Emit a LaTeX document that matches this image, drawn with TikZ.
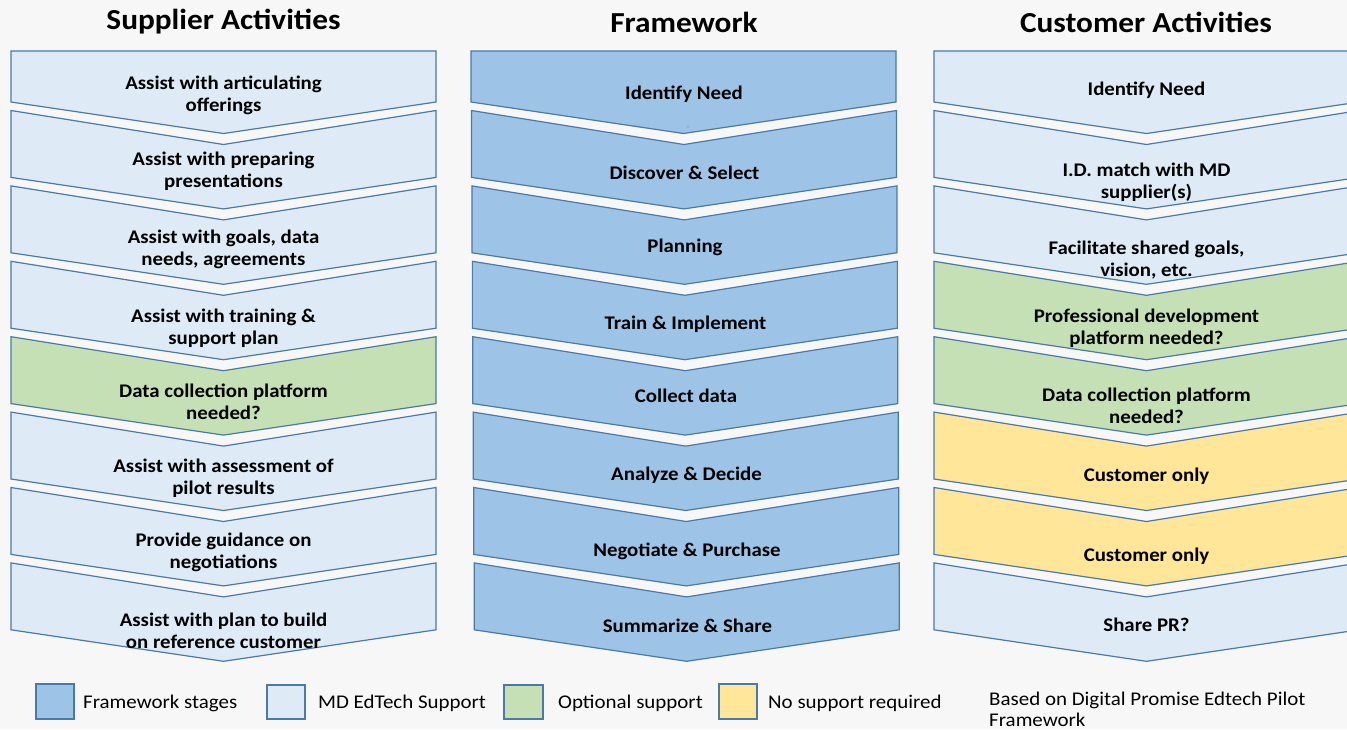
\documentclass[tikz,border=0pt]{standalone}
\usepackage{fontspec}
\setmainfont{Carlito}[FakeStretch=1.08]
\definecolor{bgc}{HTML}{F7F7F7}
\definecolor{fwblue}{HTML}{9DC3E6}
\definecolor{mdlight}{HTML}{DEEBF7}
\definecolor{optgreen}{HTML}{C5E0B4}
\definecolor{noyellow}{HTML}{FFE699}
\definecolor{edge}{HTML}{4A7AAA}
\tikzset{
  chev/.style={draw=edge,line width=1.2pt,line join=miter},
  lbl/.style={align=center,inner sep=0pt,yshift=-2pt,font=\bfseries\fontsize{19.3}{22}\selectfont},
  ttl/.style={inner sep=0pt,yshift=-2pt,font=\bfseries\fontsize{29}{32}\selectfont},
  leg/.style={anchor=west,inner sep=0pt,font=\fontsize{19.4}{21}\selectfont},
  legbox/.style={draw=edge,line width=1.2pt}
}
\newcommand\chevrow[3]{%
  \pgfmathsetmacro\chvB{102+75.4*#2}%
  \pgfmathsetmacro\chvT{\chvB-66.9}%
  \pgfmathsetmacro\chvR{#1+425}%
  \pgfmathsetmacro\chvC{#1+212.5}%
  \ifnum#2=0
    \filldraw[chev,fill=#3] (#1,51) -- (\chvR,51) -- (\chvR,\chvB) -- (\chvC,\chvB+31.5) -- (#1,\chvB) -- cycle;
  \else
    \filldraw[chev,fill=#3] (#1,\chvT) -- (\chvC,\chvT+34) -- (\chvR,\chvT) -- (\chvR,\chvB) -- (\chvC,\chvB+31.5) -- (#1,\chvB) -- cycle;
  \fi}
\begin{document}
\begin{tikzpicture}[x=1pt,y=-1pt]
\clip (0,0) rectangle (1347,729);
\fill[bgc] (0,0) rectangle (1347,729);

% titles
\node[ttl] (t1) at (223.5,20) {Supplier Activities};
\node[ttl] (t2) at (684,20) {Framework};
\node[ttl] (t3) at (1146,20) {Customer Activities};

% supplier column
\foreach \i/\c in {0/mdlight,1/mdlight,2/mdlight,3/mdlight,4/optgreen,5/mdlight,6/mdlight,7/mdlight}{
  \chevrow{11}{\i}{\c}
}
% framework column
\foreach \i in {0,...,7}{
  \pgfmathsetmacro\fwx{471+0.45*\i}
  \chevrow{\fwx}{\i}{fwblue}
}
% customer column
\foreach \i/\c in {0/mdlight,1/mdlight,2/mdlight,3/optgreen,4/optgreen,5/noyellow,6/noyellow,7/mdlight}{
  \chevrow{934}{\i}{\c}
}

% supplier texts
\node[lbl] (s1) at (223.5,93) {Assist with articulating\\offerings};
\node[lbl] (s2) at (223.5,169) {Assist with preparing\\presentations};
\node[lbl] (s3) at (223.5,247) {Assist with goals, data\\needs, agreements};
\node[lbl] (s4) at (223.5,326) {Assist with training \&\\support plan};
\node[lbl] (s5) at (223.5,400) {Data collection platform\\needed?};
\node[lbl] (s6) at (223.5,476) {Assist with assessment of\\pilot results};
\node[lbl] (s7) at (223.5,550) {Provide guidance on\\negotiations};
\node[lbl] (s8) at (223.5,629) {Assist with plan to build\\on reference customer};

% framework texts
\node[lbl] (f1) at (684,92) {Identify Need};
\node[lbl] (f2) at (684.5,171) {Discover \& Select};
\node[lbl] (f3) at (685,245) {Planning};
\node[lbl] (f4) at (685.5,322) {Train \& Implement};
\node[lbl] (f5) at (686,394) {Collect data};
\node[lbl] (f6) at (686.5,473) {Analyze \& Decide};
\node[lbl] (f7) at (687,549) {Negotiate \& Purchase};
\node[lbl] (f8) at (687.5,624) {Summarize \& Share};
\node[inner sep=0pt,text=edge!70,font=\fontsize{7}{8}\selectfont] (fx) at (688,127.5) {>};

% customer texts
\node[lbl] (c1) at (1146.5,88) {Identify Need};
\node[lbl] (c2) at (1146.5,180) {I.D. match with MD\\supplier(s)};
\node[lbl] (c3) at (1146.5,258) {Facilitate shared goals,\\vision, etc.};
\node[lbl] (c4) at (1146.5,326) {Professional development\\platform needed?};
\node[lbl] (c5) at (1146.5,404) {Data collection platform\\needed?};
\node[lbl] (c6) at (1146.5,474) {Customer only};
\node[lbl] (c7) at (1146.5,554) {Customer only};
\node[lbl] (c8) at (1146.5,623) {Share PR?};

% legend
\filldraw[legbox,fill=fwblue] (36,684) rectangle (74,719);
\node[leg] (l1) at (83,703) {Framework stages};
\filldraw[legbox,fill=mdlight] (267,685) rectangle (305,719);
\node[leg] (l2) at (318,703) {MD EdTech Support};
\filldraw[legbox,fill=optgreen] (504,685) rectangle (543,719);
\node[leg] (l3) at (558,703) {Optional support};
\filldraw[legbox,fill=noyellow] (719,684) rectangle (757,719);
\node[leg] (l4) at (768,703) {No support required};
\node[leg,align=left,anchor=north west] (l5) at (989,692) {Based on Digital Promise Edtech Pilot\\Framework};
\end{tikzpicture}
\end{document}
